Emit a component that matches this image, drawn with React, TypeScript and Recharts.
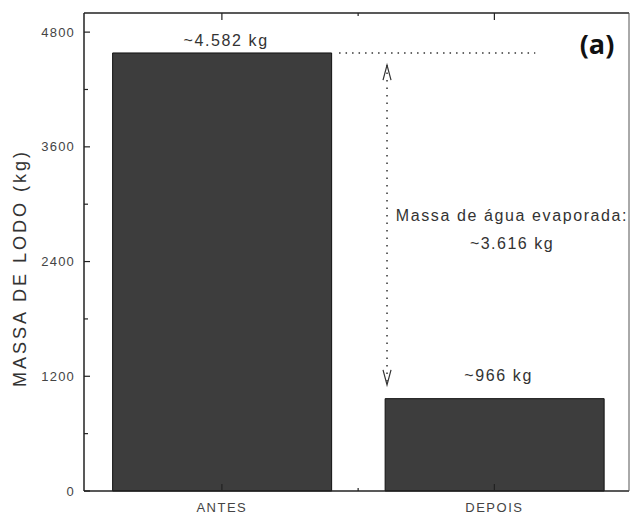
import React from "react";
import { BarChart, Bar, XAxis, YAxis, ReferenceLine, LabelList, Customized } from "recharts";

const categories = ["ANTES", "DEPOIS"];
const positions = [1, 2];
const massValues = [4582, 966];
const massLabels = ["~4.582 kg", "~966 kg"];
const yMajorTicks = [0, 1200, 2400, 3600, 4800];
const yMinorTicks = [600, 1800, 3000, 4200];
const xTicks = [1, 1.5, 2];
const evapText = ["Massa de água evaporada:", "~3.616 kg"];
const panelText = "(a)";
const yTitle = "MASSA DE LODO (kg)";

// guide line and arrow in data units
const guideY = 4582;
const guideX = [1.43, 2.15];
const arrowX = 1.606;
const arrowY = [4455, 1110];

const data = positions.map((p, i) => ({ pos: p, cat: categories[i], mass: massValues[i], label: massLabels[i] }));
const yTicks = [...yMajorTicks, ...yMinorTicks].sort((a, b) => a - b);
const xDomain: [number, number] = [0.494, 2.494];

const FONT = "'Liberation Sans', Arial, sans-serif";
const INK = "#222";
const TXT = "#444";
const Y_MARGIN = 9;
const X_MARGIN = 12;

const LeftTick = (props: any) => {
  const { x, y, payload } = props;
  const major = yMajorTicks.includes(payload.value);
  const ax = x + Y_MARGIN;
  return (
    <g>
      <line x1={ax} x2={ax + (major ? 6 : 4)} y1={y} y2={y} stroke={INK} strokeWidth={1.2} />
      {major && (
        <text x={x} y={y} dy={4.5} textAnchor="end" fontSize={13} letterSpacing={1.2} fill={TXT} fontFamily={FONT}>
          {payload.value}
        </text>
      )}
    </g>
  );
};

const RightTick = (props: any) => {
  const { x, y, payload } = props;
  const major = yMajorTicks.includes(payload.value);
  return <line x1={x} x2={x - (major ? 6 : 4)} y1={y} y2={y} stroke={INK} strokeWidth={1.2} />;
};

const BottomTick = (props: any) => {
  const { x, y, payload } = props;
  const idx = positions.indexOf(payload.value);
  const ay = y - X_MARGIN;
  return (
    <g>
      <line x1={x} x2={x} y1={ay} y2={ay - (idx >= 0 ? 7 : 3)} stroke={INK} strokeWidth={1.2} />
      {idx >= 0 && (
        <text x={x} y={y} dy="0.71em" textAnchor="middle" fontSize={13} letterSpacing={1.5} fill={TXT} fontFamily={FONT}>
          {categories[idx]}
        </text>
      )}
    </g>
  );
};

const TopTick = (props: any) => {
  const { x, y, payload } = props;
  const major = positions.includes(payload.value);
  return <line x1={x} x2={x} y1={y} y2={y + (major ? 7 : 3)} stroke={INK} strokeWidth={1.2} />;
};

const BarValueLabel = (props: any) => {
  const { x, y, width, value, index } = props;
  const lift = index === 0 ? 7 : 18;
  return (
    <text x={x + width / 2 + 4} y={y - lift} textAnchor="middle" fontSize={16} letterSpacing={1.6} fill="#333" fontFamily={FONT}>
      {value}
    </text>
  );
};

const ArrowShape = (props: any) => {
  const { x1, y1, x2, y2 } = props;
  return (
    <g stroke="#333" fill="none">
      <line x1={x1} y1={y1} x2={x2} y2={y2} strokeDasharray="1.5 6" strokeWidth={1.5} />
      <path d={`M${x1 - 4},${y1 + 15} L${x1},${y1} L${x1 + 4},${y1 + 15}`} strokeWidth={1.2} />
      <path d={`M${x2 - 4},${y2 - 15} L${x2},${y2} L${x2 + 4},${y2 - 15}`} strokeWidth={1.2} />
    </g>
  );
};

const Annotations = () => (
  <g fontFamily={FONT}>
    <text x={20} y={268} transform="rotate(-90 20 268)" textAnchor="middle" dominantBaseline="central" fontSize={18} letterSpacing={3} fill="#333">
      {yTitle}
    </text>
    <text x={512} y={221} textAnchor="middle" fontSize={16} letterSpacing={1.6} fill="#333">
      {evapText[0]}
    </text>
    <text x={512} y={249} textAnchor="middle" fontSize={16} letterSpacing={1.5} fill="#333">
      {evapText[1]}
    </text>
    <text x={597} y={54} textAnchor="middle" fontSize={27} fontWeight="bold" fill="#111" fontFamily="'Open Sans', sans-serif">
      {panelText}
    </text>
  </g>
);

export default function App() {
  return (
    <div style={{ width: 630, height: 518 }}>
      <style>{"body{margin:0}"}</style>
      <BarChart width={630} height={518} data={data} margin={{ top: 0, right: 0, left: 0, bottom: 0 }}>
        <XAxis
          xAxisId="bottom"
          dataKey="pos"
          type="number"
          domain={xDomain}
          ticks={xTicks}
          tickCount={2}
          interval={0}
          height={27}
          tickSize={0}
          tickMargin={X_MARGIN}
          tickLine={false}
          axisLine={{ stroke: INK, strokeWidth: 1.5 }}
          tick={<BottomTick />}
        />
        <XAxis
          xAxisId="top"
          dataKey="pos"
          type="number"
          orientation="top"
          domain={xDomain}
          ticks={xTicks}
          tickCount={2}
          interval={0}
          height={13}
          tickSize={0}
          tickMargin={0}
          tickLine={false}
          axisLine={{ stroke: INK, strokeWidth: 1.5 }}
          tick={<TopTick />}
        />
        <YAxis
          yAxisId="left"
          domain={[0, 5000]}
          ticks={yTicks}
          interval={0}
          width={84}
          tickSize={0}
          tickMargin={Y_MARGIN}
          tickLine={false}
          axisLine={{ stroke: INK, strokeWidth: 1.5 }}
          tick={<LeftTick />}
        />
        <YAxis
          yAxisId="right"
          orientation="right"
          domain={[0, 5000]}
          ticks={yTicks}
          interval={0}
          width={1}
          tickSize={0}
          tickMargin={0}
          tickLine={false}
          axisLine={{ stroke: "#555", strokeWidth: 1 }}
          tick={<RightTick />}
        />
        <Bar
          xAxisId="bottom"
          yAxisId="left"
          dataKey="mass"
          barSize={219}
          fill="#3d3d3d"
          stroke="#111"
          strokeWidth={1}
          isAnimationActive={false}
        >
          <LabelList dataKey="label" content={<BarValueLabel />} />
        </Bar>
        <ReferenceLine
          xAxisId="bottom"
          yAxisId="left"
          segment={[{ x: guideX[0], y: guideY }, { x: guideX[1], y: guideY }]}
          stroke="#333"
          strokeWidth={1.5}
          strokeDasharray="1.5 5"
        />
        <ReferenceLine
          xAxisId="bottom"
          yAxisId="left"
          segment={[{ x: arrowX, y: arrowY[0] }, { x: arrowX, y: arrowY[1] }]}
          shape={<ArrowShape />}
        />
        <Customized component={<Annotations />} />
      </BarChart>
    </div>
  );
}
